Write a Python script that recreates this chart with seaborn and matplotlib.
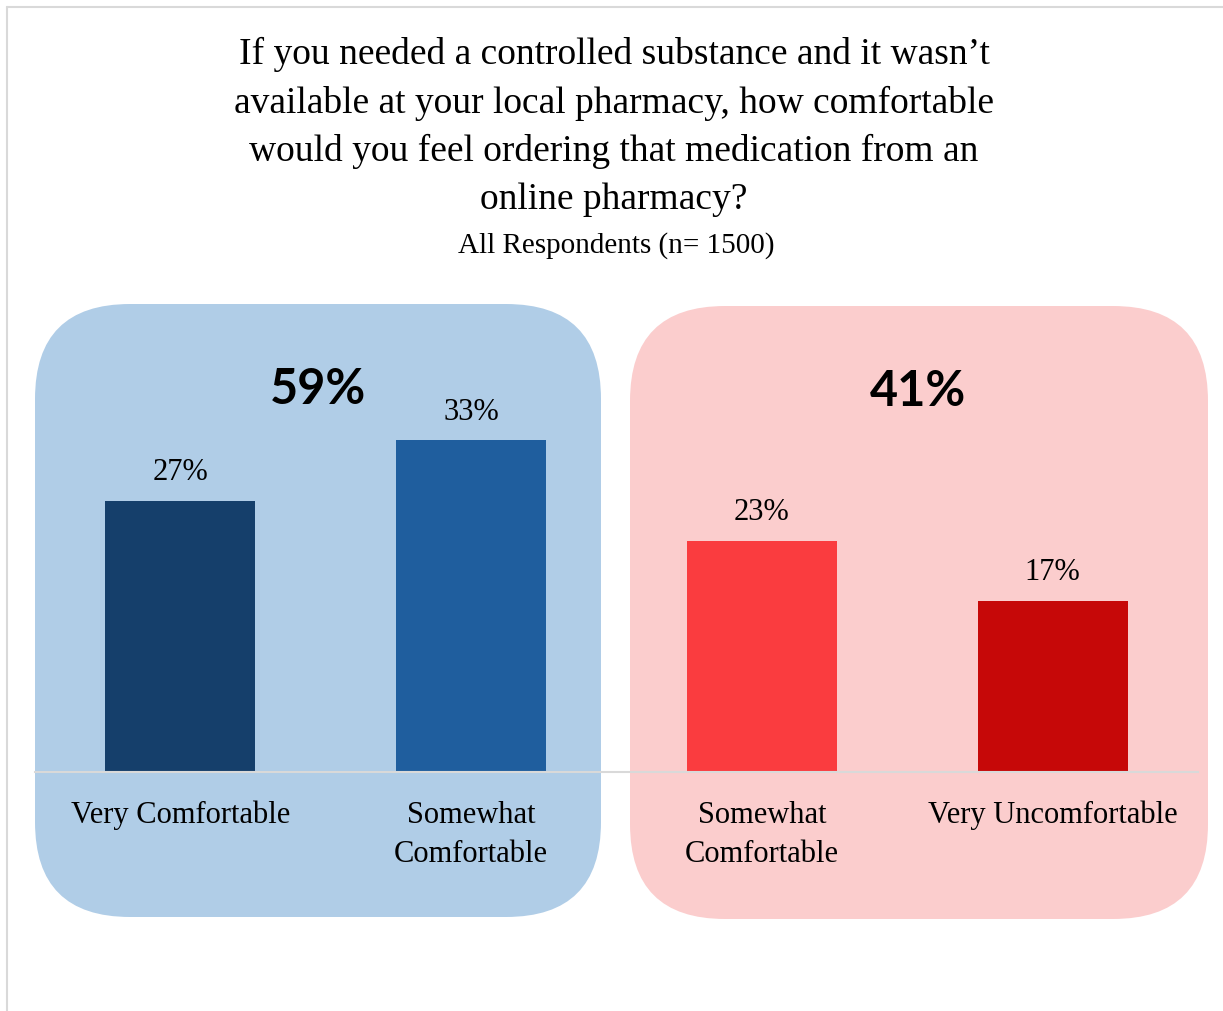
import matplotlib
matplotlib.use("Agg")
import matplotlib.pyplot as plt
import seaborn as sns
import pandas as pd
from matplotlib.patches import FancyBboxPatch

# ---- data ----
categories = ["Very Comfortable", "Somewhat\nComfortable", "Somewhat\nComfortable", "Very Uncomfortable"]
keys = ["very_comf", "some_comf", "some_uncomf", "very_uncomf"]
values = [27, 33, 23, 17]
value_labels = ["27%", "33%", "23%", "17%"]
group_totals = ["59%", "41%"]
bar_colors = ["#153f6b", "#1f5e9e", "#fa3c3f", "#c60808"]
title = ("If you needed a controlled substance and it wasn\u2019t\n"
         "available at your local pharmacy, how comfortable\n"
         "would you feel ordering that medication from an\n"
         "online pharmacy?")
subtitle = "All Respondents (n= 1500)"

df = pd.DataFrame({"key": keys, "value": values})

sns.set_theme(style="white")
plt.rcParams["font.family"] = ["Liberation Serif", "DejaVu Serif"]
plt.rcParams["text.color"] = "black"
plt.rcParams["xtick.color"] = "black"

W, H = 1223, 1012
fig = plt.figure(figsize=(W / 100, H / 100), dpi=100)

# background axes in pixel coordinates
bg = fig.add_axes([0, 0, 1, 1])
bg.set_xlim(0, W)
bg.set_ylim(H, 0)
bg.axis("off")
bg.add_patch(FancyBboxPatch((35, 305), 566, 613, boxstyle="round,pad=0,rounding_size=95",
                            facecolor="#b0cde7", edgecolor="none"))
bg.add_patch(FancyBboxPatch((630, 307), 578, 613, boxstyle="round,pad=0,rounding_size=95",
                            facecolor="#fbcdcd", edgecolor="none"))
# outer frame lines
bg.plot([7, W], [8, 8], color="#d9d9d9", lw=1.5)
bg.plot([7, 7], [8, H], color="#d9d9d9", lw=1.5)

# main bar axes
ax = fig.add_axes([35 / W, (H - 773) / H, (1198 - 35) / W, 402 / H])
ax.patch.set_alpha(0)
sns.barplot(data=df, x="key", y="value", hue="key", order=keys, hue_order=keys,
            palette=bar_colors, width=0.516, legend=False, ax=ax, saturation=1,
            edgecolor="none", linewidth=0)
ax.set_xlim(-0.5, 3.5)
ax.set_ylim(0, 40)
for s in ["top", "right", "left"]:
    ax.spines[s].set_visible(False)
ax.spines["bottom"].set_color("#d9d9d9")
ax.spines["bottom"].set_linewidth(1.5)
ax.set_yticks([])
ax.set_xlabel("")
ax.set_ylabel("")
ax.set_xticks(range(len(categories)))
ax.set_xticklabels(categories, fontsize=22, linespacing=1.45, va="top", color="black")
ax.tick_params(axis="x", length=0, pad=20)

for i, (v, lab) in enumerate(zip(values, value_labels)):
    ax.annotate(lab, (i, v), xytext=(0, 21), textcoords="offset points",
                ha="center", va="center", fontsize=22, color="black")

# group totals
fig.text(318 / W, 1 - 389 / H, group_totals[0], ha="center", va="center",
         fontsize=35, fontweight="bold", family=["Lato", "DejaVu Sans"], color="black")
fig.text(918 / W, 1 - 392 / H, group_totals[1], ha="center", va="center",
         fontsize=35, fontweight="bold", family=["Lato", "DejaVu Sans"], color="black")

# titles
fig.text(614 / W, 1 - 127 / H, title, ha="center", va="center", fontsize=27,
         linespacing=1.49, color="black")
fig.text(616 / W, 1 - 246 / H, subtitle, ha="center", va="center", fontsize=21,
         color="black")

fig.savefig("out.png", dpi=100)
